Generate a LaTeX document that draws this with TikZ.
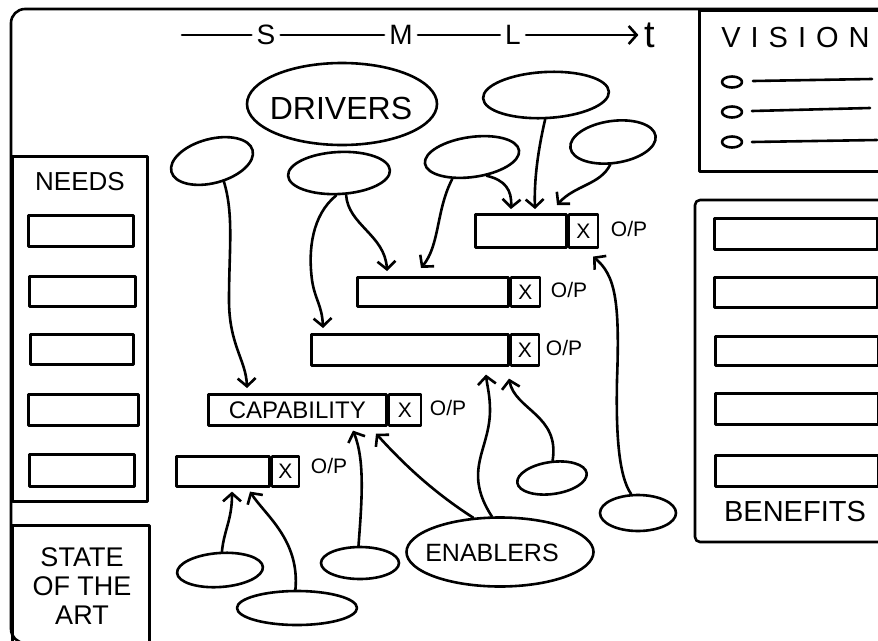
\documentclass[tikz,border=0pt]{standalone}
\usepackage{fontspec}
\setmainfont{Liberation Sans}
\usetikzlibrary{arrows.meta,shapes.geometric,calc}
\begin{document}
\begin{tikzpicture}[x=1pt,y=-1pt,line width=2.6pt,line cap=round,line join=round,
  arr/.style={-{Straight Barb[length=8pt,width=18pt]}},
  bar/.style={draw,rectangle,inner sep=0pt,anchor=north west,font=\fontsize{24}{24}\selectfont},
  xbox/.style={draw,rectangle,inner sep=0pt,anchor=west,font=\fontsize{21}{21}\selectfont},
  op/.style={inner sep=0pt,font=\fontsize{21}{21}\selectfont},
  blob/.style={draw,ellipse,inner sep=0pt},
  panel/.style={draw,rectangle,inner sep=0pt,anchor=north west},
  slot/.style={draw,rectangle,inner sep=0pt,anchor=north west,minimum height=30},
  tl/.style={inner sep=4pt,font=\fontsize{28}{28}\selectfont},
  title/.style={inner sep=0pt}]
\clip (0,0) rectangle (878,640);
% outer frame
\draw[rounded corners=14pt] (11,9) rectangle (950,643);
% timeline
\coordinate (t0) at (182,35);
\node[tl] (S) at (266,35) {S};
\node[tl] (M) at (401,35) {M};
\node[tl] (L) at (513,35) {L};
\node[tl,font=\fontsize{38}{38}\selectfont,inner sep=5pt] (T) at (650,35) {t};
\draw (t0) -- (S);
\draw (S) -- (M);
\draw (M) -- (L);
\draw[arr] (L) -- (T);
% NEEDS panel
\node[panel,minimum width=135,minimum height=345] (needs) at (11,155) {};
\node[title,font=\fontsize{26}{26}\selectfont] (needsT) at (80,182) {NEEDS};
\node[slot,minimum width=105,minimum height=31] (n1) at (27,214) {};
\node[slot,minimum width=106] (n2) at (28,275) {};
\node[slot,minimum width=103] (n3) at (29,333) {};
\node[slot,minimum width=110,minimum height=31] (n4) at (27,393) {};
\node[slot,minimum width=105,minimum height=32] (n5) at (28,453) {};
% STATE OF THE ART panel
\node[panel,minimum width=137,minimum height=140] (sota) at (11,524) {};
\node[title,align=center,font=\fontsize{27}{29}\selectfont] (sotaT) at (82,586) {STATE\\OF THE\\ART};
% VISION panel
\node[panel,minimum width=260,minimum height=161] (vision) at (698,9) {};
\node[title,anchor=west,font=\fontsize{29}{29}\selectfont] (visionT) at (720,38) {V\hspace{10pt}I\hspace{10pt}S\hspace{10pt}I\hspace{10pt}O\hspace{10pt}N};
\node[blob,minimum width=20,minimum height=11] (v1) at (732,82) {};
\node[blob,minimum width=20,minimum height=11] (v2) at (732,112) {};
\node[blob,minimum width=20,minimum height=11] (v3) at (732,142) {};
\draw (753,81) -- (872,79);
\draw (752,111) -- (870,108);
\draw (752,142) -- (877,140);
% BENEFITS panel
\draw[rounded corners=5pt] (960,200) -- (695,200) -- (695,542) -- (960,542);
\node[slot,minimum width=163,minimum height=31] (b1) at (713,217) {};
\node[slot,minimum width=163] (b2) at (713,276) {};
\node[slot,minimum width=163,minimum height=29] (b3) at (714,335) {};
\node[slot,minimum width=163,minimum height=31] (b4) at (714,392) {};
\node[slot,minimum width=163,minimum height=31] (b5) at (714,454) {};
\node[title,font=\fontsize{29}{29}\selectfont] (benT) at (795,512) {BENEFITS};
% capability bars
\node[bar,minimum width=91,minimum height=33] (barA) at (474,213) {};
\node[xbox,minimum width=29,minimum height=33] (xA) at (barA.east) {X};
\node[op] (opA) at (629,229) {O/P};
\node[bar,minimum width=151,minimum height=29] (barB) at (356,276) {};
\node[xbox,minimum width=29,minimum height=29] (xB) at (barB.east) {X};
\node[op] (opB) at (569,290) {O/P};
\node[bar,minimum width=197,minimum height=31] (barC) at (310,333) {};
\node[xbox,minimum width=28,minimum height=31] (xC) at (barC.east) {X};
\node[op] (opC) at (564,348) {O/P};
\node[bar,minimum width=178,minimum height=31] (barD) at (207,393) {CAPABILITY};
\node[xbox,minimum width=32,minimum height=31] (xD) at (barD.east) {X};
\node[op] (opD) at (448,408) {O/P};
\node[bar,minimum width=93,minimum height=30] (barE) at (175,455) {};
\node[xbox,minimum width=27,minimum height=30] (xE) at (barE.east) {X};
\node[op] (opE) at (329,466) {O/P};
% drivers
\node[blob,minimum width=190,minimum height=82] (drivers) at (342,104) {};
\node[title,font=\fontsize{32}{32}\selectfont] (driversT) at (341,108) {DRIVERS};
\node[blob,minimum width=84,minimum height=44,rotate=15] (d1) at (212,161) {};
\node[blob,minimum width=102,minimum height=42,rotate=3] (d2) at (339,173) {};
\node[blob,minimum width=95,minimum height=40,rotate=8] (d3) at (472,157) {};
\node[blob,minimum width=126,minimum height=46,rotate=3] (d4) at (546,95) {};
\node[blob,minimum width=86,minimum height=42,rotate=8] (d5) at (613,142) {};
% enablers
\node[blob,minimum width=187,minimum height=69] (en) at (500,552) {};
\node[title,font=\fontsize{25}{25}\selectfont] (enT) at (492,553) {ENABLERS};
\node[blob,minimum width=86,minimum height=34,rotate=4] (e1) at (220,570) {};
\node[blob,minimum width=120,minimum height=34] (e2) at (297,608) {};
\node[blob,minimum width=78,minimum height=32] (e3) at (360,563) {};
\node[blob,minimum width=70,minimum height=32,rotate=8] (e4) at (552,478) {};
\node[blob,minimum width=76,minimum height=36] (e5) at (638,513) {};
% driver arrows
\draw[arr] (d1.-75) .. controls (234,215) and (229,250) .. (229,300) .. controls (229,345) and (246,360) .. ([xshift=40pt,yshift=5pt]barD.north west);
\draw[arr] (d2.-100) .. controls (312,215) and (308,250) .. (312,280) .. controls (315,300) and (322,305) .. ([xshift=13pt,yshift=5pt]barC.north west);
\draw[arr] (d2.-75) .. controls (348,225) and (385,235) .. ([xshift=31pt,yshift=5pt]barB.north west);
\draw[arr] (d3.-140) .. controls (436,210) and (440,245) .. ([xshift=65pt,yshift=8pt]barB.north west);
\draw[arr] (d3.-60) .. controls (505,180) and (512,190) .. ([xshift=37pt,yshift=4pt]barA.north west);
\draw[arr] (d4.-95) .. controls (538,150) and (534,180) .. ([xshift=61pt,yshift=4pt]barA.north west);
\draw[arr] (d5.-105) .. controls (600,185) and (575,185) .. ([xshift=83pt,yshift=8pt]barA.north west);
% enabler arrows
\draw[arr] (e1.80) .. controls (224,530) and (232,520) .. ([xshift=57pt,yshift=-4pt]barE.south west);
\draw[arr] (e2.95) .. controls (300,540) and (265,515) .. ([xshift=75pt,yshift=-4pt]barE.south west);
\draw[arr] (e3.95) .. controls (362,500) and (365,460) .. ([xshift=146pt,yshift=-4pt]barD.south west);
\draw[arr] (en.128) .. controls (430,490) and (400,460) .. ([xshift=169pt,yshift=-7pt]barD.south west);
\draw[arr] (en.103) .. controls (462,470) and (490,450) .. (490,410) .. controls (490,395) and (487,385) .. ([xshift=176pt,yshift=-8pt]barC.south west);
\draw[arr] (e4.80) .. controls (560,415) and (515,410) .. ([xshift=199pt,yshift=-12pt]barC.south west);
\draw[arr] (e5.110) .. controls (618,475) and (616,430) .. (617,380) .. controls (620,300) and (615,275) .. ([xshift=119pt,yshift=-8pt]barA.south west);
\end{tikzpicture}
\end{document}
